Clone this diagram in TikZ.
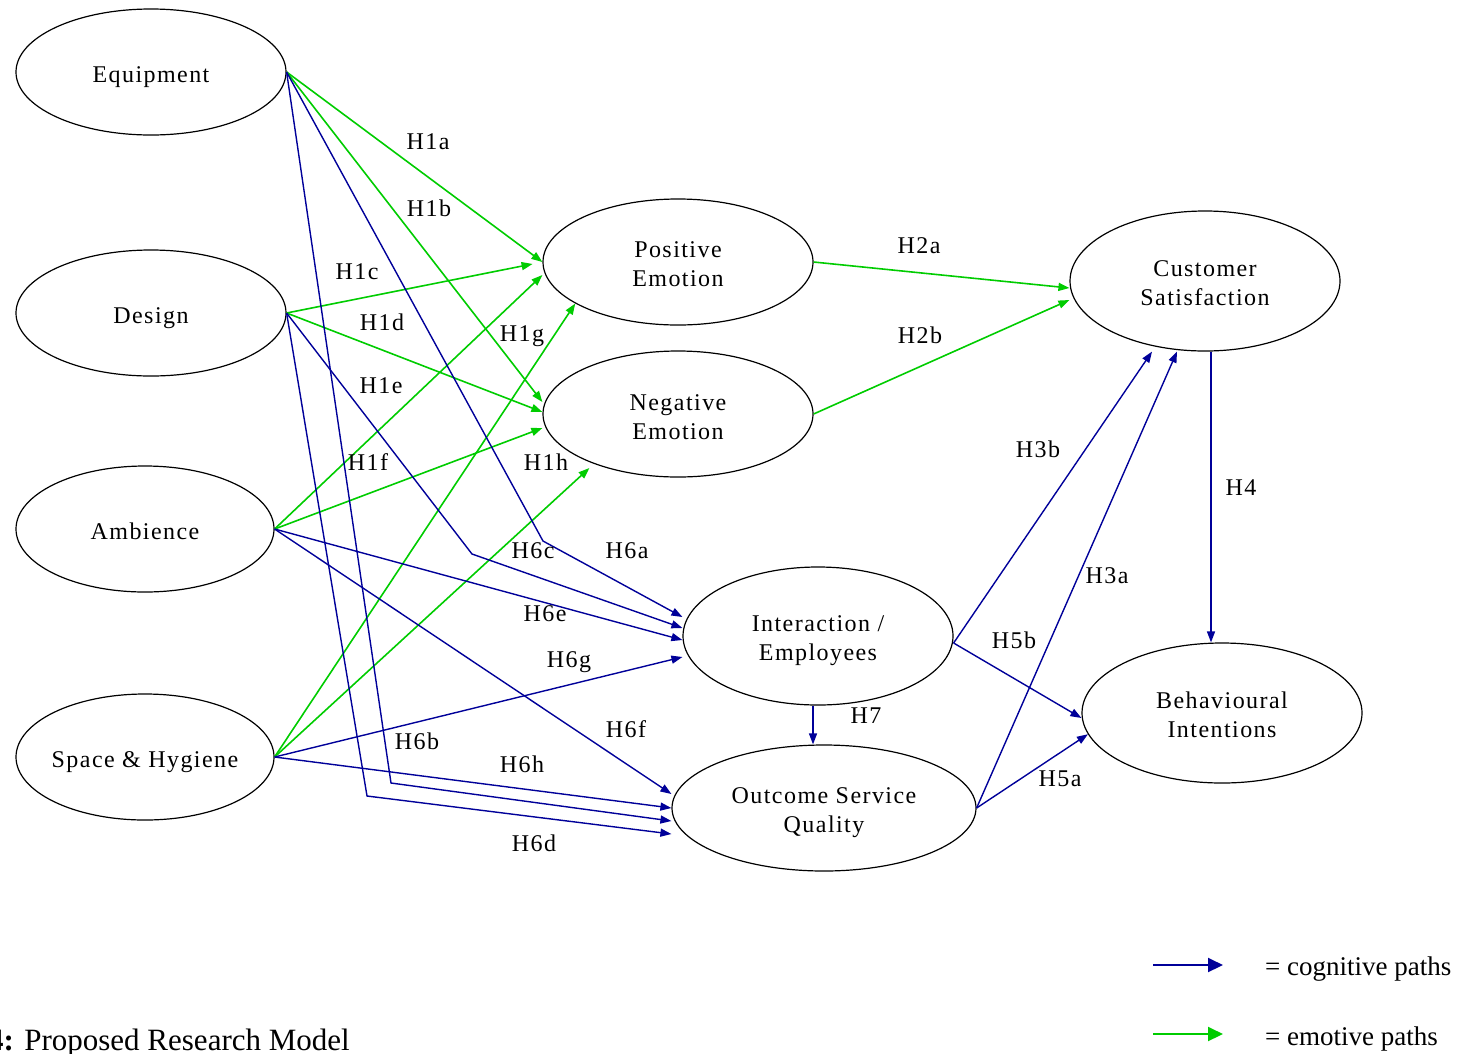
\documentclass[tikz,border=0pt]{standalone}
\usepackage{fontspec}
\setmainfont{Liberation Serif}[LetterSpace=6]
\newfontfamily\plainfont{Liberation Serif}
\usetikzlibrary{shapes.geometric,arrows.meta}
\definecolor{cog}{RGB}{0,0,153}
\definecolor{emo}{RGB}{0,204,0}
\newcommand\nstrut[1][29pt]{\rule{0pt}{#1}}
\begin{document}
\begin{tikzpicture}[x=1pt,y=-1pt,
  construct/.style={draw=black,line width=1.2pt,ellipse,inner sep=0pt,align=center,font=\fontsize{24}{29}\selectfont},
  cogpath/.style={draw=cog,line width=1.4pt,-{Triangle[length=11pt,width=8pt]}},
  emopath/.style={draw=emo,line width=1.6pt,-{Triangle[length=11pt,width=8pt]}},
  hlabel/.style={font=\fontsize{24}{29}\selectfont,inner sep=0pt},
  legtext/.style={font=\plainfont\fontsize{27}{32}\selectfont,inner sep=0pt,anchor=base west}]
\useasboundingbox (0,0) rectangle (1466,1053);

% constructs
\node[construct,minimum width=270pt,minimum height=126pt] (equip) at (151,72) {\nstrut[27pt]Equipment};
\node[construct,minimum width=270pt,minimum height=126pt] (design) at (151,313) {\nstrut[27pt]Design};
\node[construct,minimum width=258pt,minimum height=126pt] (amb) at (145,529) {\nstrut[21pt]Ambience};
\node[construct,minimum width=258pt,minimum height=126pt,inner xsep=-8pt] (space) at (145,757) {\nstrut[27pt]Space \& Hygiene};
\node[construct,minimum width=270pt,minimum height=126pt] (pos) at (678,262) {\nstrut[21pt]Positive\\Emotion};
\node[construct,minimum width=270pt,minimum height=126pt] (neg) at (678,414) {\nstrut[23pt]Negative\\Emotion};
\node[construct,minimum width=270pt,minimum height=140pt] (cust) at (1205,281) {\nstrut[21pt]Customer\\Satisfaction};
\node[construct,minimum width=270pt,minimum height=138pt] (inter) at (818,636) {\nstrut[26pt]Interaction /\\Employees};
\node[construct,minimum width=304pt,minimum height=126pt] (out) at (824,808) {\nstrut[26pt]Outcome Service\\Quality};
\node[construct,minimum width=280pt,minimum height=140pt] (beh) at (1222,713) {\nstrut[21pt]Behavioural\\Intentions};

% bend points
\coordinate (b6a) at (543,541);
\coordinate (b6b) at (391,783);
\coordinate (b6c) at (472,554);
\coordinate (b6d) at (367,796);

% emotive paths
\draw[emopath] (equip.east) -- (pos.west);
\draw[emopath] (equip.east) -- ([yshift=12pt]neg.west);
\draw[emopath,shorten >=10pt] (design.east) -- (pos.west);
\draw[emopath] (design.east) -- ([yshift=2pt]neg.west);
\draw[emopath] (amb.east) -- ([yshift=-13pt]pos.west);
\draw[emopath] (amb.east) -- ([yshift=-14pt]neg.west);
\draw[emopath] (space.east) -- (pos.202);
\draw[emopath] (space.east) -- ([xshift=47pt,yshift=-54pt]neg.west);
\draw[emopath] (pos.east) -- ([yshift=-7pt]cust.west);
\draw[emopath] (neg.east) -- ([yshift=-19pt]cust.west);

% cognitive paths
\draw[cogpath] (equip.east) -- (b6a) -- ([yshift=19pt]inter.west);
\draw[cogpath] (equip.east) -- (b6b) -- ([yshift=-13pt]out.west);
\draw[cogpath] (design.east) -- (b6c) -- ([yshift=8pt]inter.west);
\draw[cogpath] (design.east) -- (b6d) -- ([yshift=-26pt]out.west);
\draw[cogpath] (amb.east) -- ([yshift=-4pt]inter.west);
\draw[cogpath] (amb.east) -- ([yshift=14pt]out.west);
\draw[cogpath] (space.east) -- ([yshift=-21pt]inter.west);
\draw[cogpath] (space.east) -- (out.west);
\draw[cogpath] ([yshift=-7pt]inter.east) -- ([xshift=-53pt]cust.south);
\draw[cogpath] (out.east) -- ([xshift=-28pt]cust.south);
\draw[cogpath] ([xshift=6pt]cust.south) -- ([xshift=6pt]cust.south |- beh.north);
\draw[cogpath] ([yshift=-7pt]inter.east) -- ([yshift=-5pt]beh.west);
\draw[cogpath] (out.east) -- (beh.189);
\draw[cogpath] ([xshift=-5pt]inter.south) -- ([xshift=-5pt]inter.south |- out.north);

% labels
\node[hlabel] (l1a) at (428,142) {H1a};
\node[hlabel] (l1b) at (429,208) {H1b};
\node[hlabel] (l1c) at (357,272) {H1c};
\node[hlabel] (l1d) at (382,322) {H1d};
\node[hlabel] (l1g) at (522,336) {H1g};
\node[hlabel] (l1e) at (381,386) {H1e};
\node[hlabel] (l1f) at (368,462) {H1f};
\node[hlabel] (l1h) at (546,462) {H1h};
\node[hlabel] (l6c) at (533,551) {H6c};
\node[hlabel] (l6a) at (627,551) {H6a};
\node[hlabel] (l6e) at (545,614) {H6e};
\node[hlabel] (l6g) at (569,662) {H6g};
\node[hlabel] (l6f) at (626,729) {H6f};
\node[hlabel] (l6b) at (417,741) {H6b};
\node[hlabel] (l6h) at (522,764) {H6h};
\node[hlabel] (l6d) at (534,843) {H6d};
\node[hlabel] (l7) at (866,716) {H7};
\node[hlabel] (l2a) at (919,246) {H2a};
\node[hlabel] (l2b) at (920,335) {H2b};
\node[hlabel] (l3b) at (1038,449) {H3b};
\node[hlabel] (l4) at (1241,488) {H4};
\node[hlabel] (l3a) at (1107,576) {H3a};
\node[hlabel] (l5b) at (1014,640) {H5b};
\node[hlabel] (l5a) at (1060,779) {H5a};

% legend
\coordinate (lc1) at (1153,965);
\coordinate (lc2) at (1223,965);
\coordinate (le1) at (1153,1034);
\coordinate (le2) at (1223,1034);
\draw[draw=cog,line width=2pt,-{Triangle[length=15pt,width=14pt]}] (lc1) -- (lc2);
\draw[draw=emo,line width=2pt,-{Triangle[length=15pt,width=14pt]}] (le1) -- (le2);
\node[legtext] (lgc) at (1265,975) {= cognitive paths};
\node[legtext] (lge) at (1265,1045) {= emotive paths};

% caption
\node[font=\plainfont\fontsize{31}{36}\selectfont,inner sep=0pt,anchor=base west] (cap) at (-12,1050) {\textbf{4:} Proposed Research Model};
\end{tikzpicture}
\end{document}
